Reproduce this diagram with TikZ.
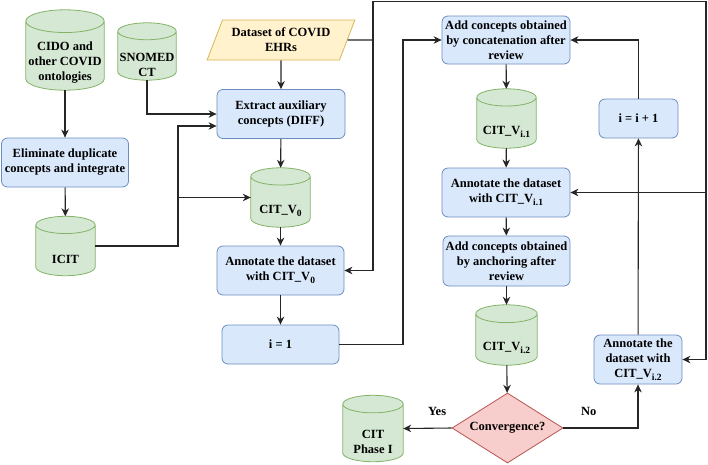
\documentclass[tikz,border=0pt]{standalone}
\usepackage{fontspec}
\setmainfont{Liberation Serif}
\usetikzlibrary{shapes.geometric, arrows.meta, calc, backgrounds}

\definecolor{boxfill}{HTML}{DAE8FC}
\definecolor{boxline}{HTML}{6C8EBF}
\definecolor{dbfill}{HTML}{D5E8D4}
\definecolor{dbline}{HTML}{82B366}
\definecolor{iofill}{HTML}{FFF2CC}
\definecolor{ioline}{HTML}{D6B656}
\definecolor{decfill}{HTML}{F8CECC}
\definecolor{decline}{HTML}{B85450}

\newcommand{\vsub}[1]{\raisebox{-3pt}{\fontsize{9.5}{9.5}\selectfont #1}}

\begin{document}
\begin{tikzpicture}[
  x=1pt, y=-1pt,
  font=\fontsize{12.5}{15}\selectfont\bfseries,
  box/.style={draw=boxline, fill=boxfill, line width=0.8pt, rectangle, rounded corners=6pt, align=center, inner sep=2pt, minimum width=127pt, minimum height=49pt},
  db/.style={rectangle, inner sep=0pt, minimum width=59pt, minimum height=59pt, label={[align=center, yshift=-13pt]center:#1}},
  dbshape/.style={draw=dbline, fill=dbfill, line width=0.8pt},
  io/.style={draw=ioline, fill=iofill, line width=0.8pt, trapezium, trapezium left angle=63, trapezium right angle=117, trapezium stretches=true, align=center, inner sep=1pt, minimum width=148pt, minimum height=40pt},
  decision/.style={draw=decline, fill=decfill, line width=0.8pt, diamond, aspect=1.6, inner sep=0pt, minimum width=111pt, minimum height=70pt},
  flow/.style={draw=black!85, line width=1.1pt},
  arr/.style={flow, -{Stealth[length=8pt, width=7.5pt, inset=2.5pt]}}
]
\useasboundingbox (0,0) rectangle (708,464);

% Left column - ontologies
\node[db={CIDO and\\other COVID\\ontologies}, minimum width=78pt, minimum height=80pt] (cido) at (65,50) {};
\node[db={SNOMED\\CT}, minimum width=58pt, minimum height=57pt] (snomed) at (147,51.5) {};
\node[box] (elim) at (65,162.5) {Eliminate duplicate\\concepts and integrate};
\node[db=ICIT] (icit) at (65.5,246) {};

% Middle column - initial version
\node[io] (dataset) at (281,40) {Dataset of COVID\\EHRs};
\node[box, minimum width=128pt] (extract) at (281,114) {Extract auxiliary\\concepts (DIFF)};
\node[db={CIT\_V\vsub{0}}] (cit0) at (280.5,197.5) {};
\node[box] (ann0) at (280.5,270.5) {Annotate the dataset\\with CIT\_V\vsub{0}};
\node[box, minimum width=117pt, minimum height=39pt] (ione) at (280.5,344.5) {i = 1};

% Right column - iteration
\node[box, minimum width=128pt, minimum height=48pt] (addcat) at (506,40) {Add concepts obtained\\by concatenation after\\review};
\node[db={CIT\_V\vsub{i.1}}] (cit1) at (506.5,118.5) {};
\node[box, minimum width=128pt] (ann1) at (506,192.5) {Annotate the dataset\\with CIT\_V\vsub{i.1}};
\node[box, minimum height=50pt] (addanc) at (506.5,261) {Add concepts obtained\\by anchoring after\\review};
\node[db={CIT\_V\vsub{i.2}}, minimum width=61pt, minimum height=60pt] (cit2) at (506.5,335) {};
\node[decision] (conv) at (507.5,428) {Convergence?};
\node[db={CIT\\Phase I}, minimum width=60pt, minimum height=66pt] (phase1) at (373,428.5) {};
\node[box, minimum width=88pt] (ann2) at (638,359.5) {Annotate the\\dataset with\\CIT\_V\vsub{i.2}};
\node[box, minimum width=79pt, minimum height=39pt] (inc) at (638.5,118.5) {i = i + 1};

% Cylinder outlines behind the labels
\begin{scope}[on background layer]
  \foreach \c in {cido,snomed,icit,cit0,cit1,cit2,phase1}
    \path[dbshape] let \p1=(\c.north west), \p2=(\c.south east), \n1={0.5*(\x2-\x1)}, \n2={0.29*\n1} in
      (\x1,\y1-\n2*1pt) -- (\x1,\y2+\n2*1pt) arc[start angle=180, end angle=360, x radius=\n1*1pt, y radius=\n2*1pt]
      -- (\x2,\y1-\n2*1pt) arc[start angle=0, end angle=180, x radius=\n1*1pt, y radius=\n2*1pt] -- cycle
      (\x1,\y1-\n2*1pt) arc[start angle=180, end angle=360, x radius=\n1*1pt, y radius=\n2*1pt];
\end{scope}

% Junction points
\coordinate (join) at (178,126);
\coordinate (split) at (373,40);
\coordinate (corner) at (706,1.5);
\coordinate (loop) at (403,40);

% Straight arrows
\draw[arr] (cido) -- (elim);
\draw[arr] (elim) -- (icit);
\draw[arr] (dataset) -- (extract);
\draw[arr] (extract) -- (cit0);
\draw[arr] (cit0) -- (ann0);
\draw[arr] (ann0) -- (ione);
\draw[arr] (addcat) -- (cit1);
\draw[arr] (cit1) -- (ann1);
\draw[arr] (ann1) -- (addanc);
\draw[arr] (addanc) -- (cit2);
\draw[arr] (cit2) -- (conv);
\draw[arr] (ann2) -- (inc);

% Elbow arrows
\draw[arr] (snomed.south) |- (extract.west);
\draw[arr] (icit.east) -| (join) -- (join -| extract.west);
\draw[arr] (join |- cit0.west) -- (cit0.west);
\draw[flow] (dataset.east) -- (split);
\draw[arr] (split) |- (ann0.east);
\draw[arr] (split) |- (corner) |- (ann2.east);
\draw[arr] (corner |- ann1.east) -- (ann1.east);
\draw[arr] (ione.east) -| (loop) -- (addcat.west);
\draw[arr] (inc.north) |- (addcat.east);

% Decision outcomes
\draw[arr] (conv.west) -- node[pos=0.3, above=9pt] {Yes} (phase1.east);
\draw[arr] (conv.east) -| node[pos=0.17, above=9pt] {No} (ann2.south);

\end{tikzpicture}
\end{document}
